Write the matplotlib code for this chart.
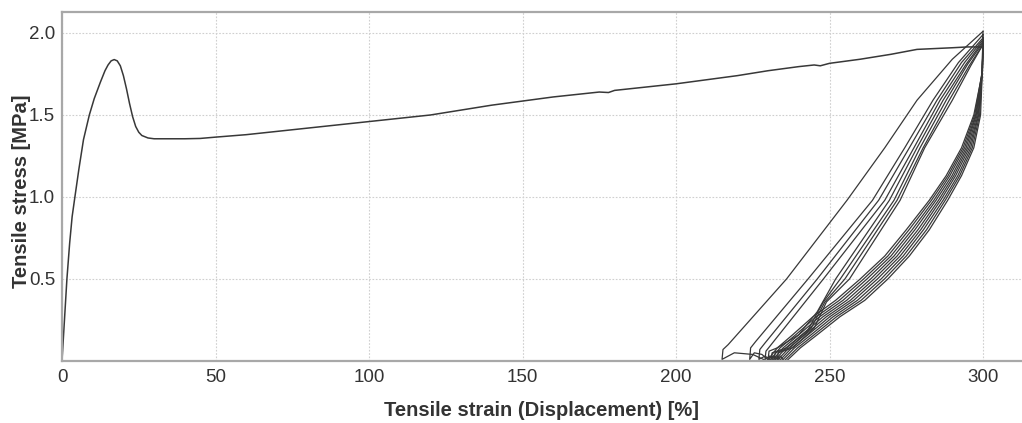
import matplotlib
matplotlib.use("Agg")
import matplotlib.pyplot as plt

plt.rcParams['font.family'] = ['Liberation Sans', 'DejaVu Sans']

# first loading: yield peak, neck drop, then drawing up to 300 %
load_strain = [0, 0.8, 1.6, 2.5, 3.3, 4.2, 5.5, 7, 8.9, 10.5, 12.5, 14, 15, 16, 17,
               18, 19, 20, 21, 22, 23, 24, 25, 26, 28, 30, 40, 45, 50, 60, 70, 80,
               90, 100, 110, 120, 130, 140, 150, 160, 170, 175, 178, 180, 190, 200,
               208, 220, 230, 240, 245, 247, 250, 260, 270, 278.5, 290, 295, 300]
load_stress = [0, 0.25, 0.5, 0.72, 0.88, 1.0, 1.17, 1.35, 1.5, 1.6, 1.7, 1.77, 1.805,
               1.83, 1.838, 1.83, 1.8, 1.74, 1.66, 1.57, 1.49, 1.43, 1.395, 1.375,
               1.36, 1.355, 1.355, 1.357, 1.365, 1.38, 1.4, 1.42, 1.44, 1.46, 1.48,
               1.5, 1.53, 1.56, 1.585, 1.61, 1.63, 1.64, 1.637, 1.65, 1.67, 1.69,
               1.71, 1.74, 1.77, 1.795, 1.805, 1.8, 1.815, 1.84, 1.87, 1.9, 1.91,
               1.915, 1.915]

# unload / reload cycles at 300 % strain, (strain, stress)
cycle_1 = [(300, 1.915), (299.7, 1.75), (297, 1.5), (293, 1.3), (288, 1.13),
           (282.5, 0.98), (275, 0.8), (268, 0.64), (260, 0.5), (252, 0.37),
           (244.6, 0.27), (238, 0.16), (233, 0.08), (229.6, 0.0), (225, 0.04),
           (219, 0.05), (215, 0.01), (215.3, 0.07), (217, 0.1), (236, 0.5),
           (255.7, 0.98), (268, 1.3), (278.5, 1.59), (290, 1.84), (300, 2.01)]
cycle_2 = [(299.7, 1.76), (297.3, 1.5), (293.5, 1.3), (288.6, 1.13), (283.2, 0.98),
           (275.9, 0.8), (269, 0.64), (261.1, 0.5), (253.2, 0.37), (245.7, 0.27),
           (239, 0.16), (233.9, 0.08), (230.4, 0.0), (228, 0.04), (225.5, 0.05),
           (224, 0.01), (224.3, 0.08), (226, 0.12), (243, 0.5), (264, 0.98),
           (274.5, 1.3), (283.7, 1.59), (292, 1.82), (300, 1.99)]
cycle_3 = [(299.7, 1.76), (297.6, 1.5), (294, 1.3), (289.2, 1.13), (284, 0.98),
           (276.9, 0.8), (270, 0.64), (262.2, 0.5), (254.4, 0.37), (246.8, 0.27),
           (240, 0.16), (234.9, 0.08), (231.2, 0.0), (229, 0.03), (227, 0.01),
           (227.3, 0.07), (229, 0.11), (246, 0.5), (266, 0.98), (276, 1.3),
           (285, 1.59), (293, 1.82), (300, 1.97)]
cycle_4 = [(299.8, 1.76), (297.8, 1.5), (294.5, 1.3), (289.9, 1.13), (284.7, 0.98),
           (277.8, 0.8), (271, 0.64), (263.4, 0.5), (255.6, 0.37), (247.9, 0.27),
           (241, 0.16), (235.8, 0.08), (232, 0.0), (230.5, 0.03), (229, 0.01),
           (229.3, 0.06), (231, 0.1), (248, 0.5), (268, 0.98), (277.5, 1.3),
           (286, 1.59), (294, 1.82), (300, 1.96)]
cycle_5 = [(299.8, 1.77), (298.1, 1.5), (295, 1.3), (290.5, 1.13), (285.5, 0.98),
           (278.8, 0.8), (272, 0.64), (264.5, 0.5), (256.8, 0.37), (249, 0.27),
           (242, 0.16), (236.8, 0.08), (232.8, 0.0), (231.5, 0.03), (230, 0.01),
           (230.3, 0.06), (233, 0.08), (240, 0.16), (246, 0.3), (252, 0.5),
           (269.5, 0.98), (278.5, 1.3), (287, 1.59), (294.5, 1.81), (300, 1.95)]
cycle_6 = [(299.8, 1.77), (298.4, 1.5), (295.5, 1.3), (291.1, 1.13), (286.2, 0.98),
           (279.7, 0.8), (273, 0.64), (265.6, 0.5), (257.9, 0.37), (250.1, 0.27),
           (243, 0.16), (237.7, 0.08), (233.6, 0.0), (232, 0.03), (231, 0.01),
           (231.3, 0.05), (236, 0.08), (243, 0.19), (248, 0.36), (253.5, 0.5),
           (271, 0.98), (279.5, 1.3), (288, 1.59), (295, 1.81), (300, 1.94)]
cycle_7 = [(299.8, 1.78), (298.6, 1.5), (296, 1.3), (291.8, 1.13), (287, 0.98),
           (280.6, 0.8), (274, 0.64), (266.8, 0.5), (259.1, 0.37), (251.2, 0.27),
           (244, 0.16), (238.6, 0.08), (234.4, 0.0), (233, 0.03), (232, 0.01),
           (232.3, 0.05), (237, 0.08), (244, 0.2), (248.5, 0.36), (255, 0.5),
           (272, 0.98), (280.5, 1.3), (289, 1.59), (295.5, 1.8), (300, 1.93)]
cycle_8 = [(299.8, 1.78), (298.9, 1.5), (296.5, 1.3), (292.4, 1.13), (287.7, 0.98),
           (281.6, 0.8), (275, 0.64), (267.9, 0.5), (260.3, 0.37), (252.3, 0.27),
           (245, 0.16), (239.6, 0.08), (235.2, 0.0), (234, 0.03), (233, 0.01),
           (233.3, 0.05), (238, 0.08), (245, 0.2), (249, 0.36), (256.5, 0.5),
           (273, 0.98), (281, 1.3), (290, 1.59), (296, 1.8), (300, 1.93)]
cycle_9 = [(299.8, 1.78), (299.2, 1.5), (297, 1.3), (293, 1.13), (288.5, 0.98),
           (282.5, 0.8), (276, 0.64), (269, 0.5), (261.5, 0.37), (253.4, 0.27),
           (246, 0.16), (240.5, 0.08), (236, 0.0)]

cycles = [cycle_1, cycle_2, cycle_3, cycle_4, cycle_5, cycle_6, cycle_7, cycle_8, cycle_9]

x_ticks = [0, 50, 100, 150, 200, 250, 300]
y_ticks = [0.5, 1.0, 1.5, 2.0]

fig = plt.figure(figsize=(10.22, 4.23), dpi=100)
ax = fig.add_axes([62 / 1022, 62 / 423, 960 / 1022, 349 / 423])

line_col = '#383838'
ax.plot(load_strain, load_stress, color=line_col, lw=1.1)
# each cycle continues from where the previous one stopped
prev = (load_strain[-1], load_stress[-1])
for c in cycles:
    pts = [prev] + c
    ax.plot([p[0] for p in pts], [p[1] for p in pts], color=line_col, lw=0.9)
    prev = c[-1]

ax.set_xlim(0, 312.7)
ax.set_ylim(0, 2.128)
ax.set_xticks(x_ticks)
ax.set_xticklabels([str(t) for t in x_ticks])
ax.set_yticks(y_ticks)
ax.set_yticklabels([f"{t:.1f}" for t in y_ticks])

ax.grid(True, linestyle=(0, (1.5, 1.5)), color='#cfcfcf', lw=0.8)
ax.set_axisbelow(True)
ax.tick_params(length=0, labelsize=13.5, labelcolor='#333333')
ax.tick_params(axis='x', pad=5.5)
ax.tick_params(axis='y', pad=5)

for s in ['top', 'left', 'bottom']:
    ax.spines[s].set_color('#a8a8a8')
    ax.spines[s].set_linewidth(1.6)
ax.spines['right'].set_visible(False)

ax.set_xlabel('Tensile strain (Displacement) [%]', fontsize=14.5, fontweight='bold',
              color='#333333', va='center')
ax.set_ylabel('Tensile stress [MPa]', fontsize=14.5, fontweight='bold',
              color='#333333', va='center')
ax.xaxis.set_label_coords(0.5, -0.143)
ax.yaxis.set_label_coords(-0.0427, 0.487)

fig.savefig('out.png', dpi=100)
